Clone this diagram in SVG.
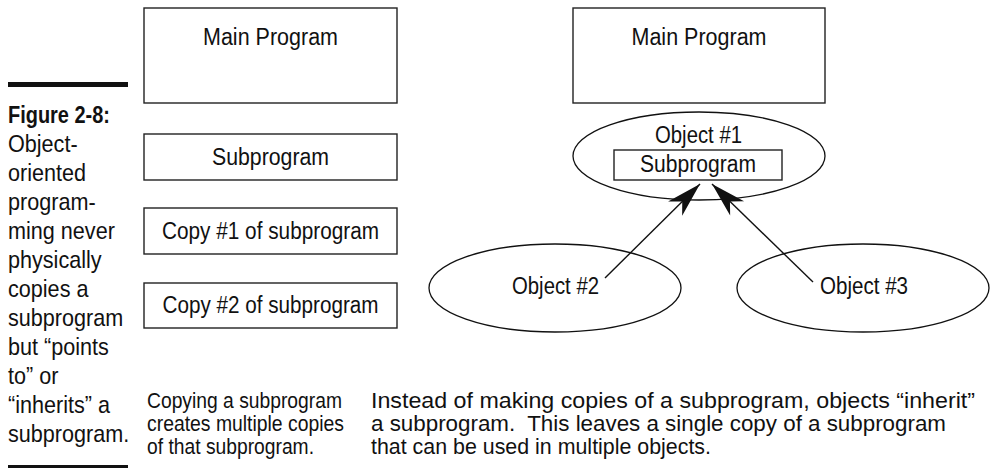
<svg xmlns="http://www.w3.org/2000/svg" width="998" height="468" viewBox="0 0 998 468">
<defs>
<style>
.box{fill:#fff;stroke:#222;stroke-width:1.4}
.ell{fill:#fff;stroke:#111;stroke-width:1.3}
.t{font-family:"Liberation Sans",Arial,sans-serif;font-size:23px;fill:#111;text-anchor:middle}
.cap{font-family:"Liberation Sans",Arial,sans-serif;font-size:24px;fill:#111}
.bcap{font-family:"Liberation Sans",Arial,sans-serif;font-size:22px;fill:#111}
.conn{stroke:#111;stroke-width:1.4;fill:none}
</style>
<marker id="ah" markerUnits="userSpaceOnUse" markerWidth="40" markerHeight="30" viewBox="-30 -10 32 20" refX="0" refY="0" orient="auto">
<path d="M0,0 L-28,-8 L-20,0 L-28,8 Z" fill="#111"/>
</marker>
</defs>
<rect width="998" height="468" fill="#fff"/>

<g id="caption">
<rect x="8" y="82" width="120" height="5" fill="#111"/>
<text class="cap" x="8" y="123" font-weight="bold" textLength="102" lengthAdjust="spacingAndGlyphs">Figure 2-8:</text>
<g transform="translate(8,0) scale(0.9,1)">
<text class="cap" x="0" y="152">Object-</text>
<text class="cap" x="0" y="181">oriented</text>
<text class="cap" x="0" y="210">program-</text>
<text class="cap" x="0" y="239">ming never</text>
<text class="cap" x="0" y="268">physically</text>
<text class="cap" x="0" y="297">copies a</text>
<text class="cap" x="0" y="326">subprogram</text>
<text class="cap" x="0" y="355">but “points</text>
<text class="cap" x="0" y="384">to” or</text>
<text class="cap" x="0" y="413">“inherits” a</text>
<text class="cap" x="0" y="442">subprogram.</text>
</g>
<rect x="8" y="465" width="120" height="4" fill="#111"/>
</g>

<g id="left-main">
<rect class="box" x="144" y="8" width="253" height="95"/>
<text class="t" x="270.5" y="45" textLength="135" lengthAdjust="spacingAndGlyphs">Main Program</text>
</g>
<g id="left-sub">
<rect class="box" x="144" y="134" width="253" height="46"/>
<text class="t" x="270.5" y="165" textLength="117" lengthAdjust="spacingAndGlyphs">Subprogram</text>
</g>
<g id="copy1">
<rect class="box" x="144" y="208" width="253" height="46"/>
<text class="t" x="270.5" y="239" textLength="217" lengthAdjust="spacingAndGlyphs">Copy #1 of subprogram</text>
</g>
<g id="copy2">
<rect class="box" x="144" y="283" width="253" height="45"/>
<text class="t" x="270.5" y="313" textLength="216" lengthAdjust="spacingAndGlyphs">Copy #2 of subprogram</text>
</g>

<g id="right-main">
<rect class="box" x="573" y="8" width="252" height="95"/>
<text class="t" x="699" y="45" textLength="135" lengthAdjust="spacingAndGlyphs">Main Program</text>
</g>
<g id="object1">
<ellipse class="ell" cx="699" cy="156" rx="126" ry="44"/>
<text class="t" x="698.5" y="143" textLength="87" lengthAdjust="spacingAndGlyphs">Object #1</text>
<rect class="box" x="614" y="150" width="168" height="30"/>
<text class="t" x="698" y="172" textLength="116" lengthAdjust="spacingAndGlyphs">Subprogram</text>
</g>
<g id="object2">
<ellipse class="ell" cx="555" cy="288" rx="126" ry="44"/>
<text class="t" x="555.5" y="294" textLength="87" lengthAdjust="spacingAndGlyphs">Object #2</text>
</g>
<g id="object3">
<ellipse class="ell" cx="863" cy="288" rx="126" ry="44"/>
<text class="t" x="864" y="294" textLength="88" lengthAdjust="spacingAndGlyphs">Object #3</text>
</g>

<g id="connectors">
<line class="conn" x1="605" y1="278" x2="700" y2="184" marker-end="url(#ah)"/>
<line class="conn" x1="813" y1="282" x2="712" y2="184" marker-end="url(#ah)"/>
</g>

<g id="notes">
<text class="bcap" x="147" y="408" textLength="195" lengthAdjust="spacingAndGlyphs">Copying a subprogram</text>
<text class="bcap" x="147" y="431" textLength="197" lengthAdjust="spacingAndGlyphs">creates multiple copies</text>
<text class="bcap" x="147" y="454" textLength="167" lengthAdjust="spacingAndGlyphs">of that subprogram.</text>
<text class="bcap" x="371" y="408" textLength="604" lengthAdjust="spacingAndGlyphs">Instead of making copies of a subprogram, objects “inherit”</text>
<text class="bcap" x="371" y="431" textLength="575" lengthAdjust="spacingAndGlyphs">a subprogram.&#160; This leaves a single copy of a subprogram</text>
<text class="bcap" x="371" y="454" textLength="340" lengthAdjust="spacingAndGlyphs">that can be used in multiple objects.</text>
</g>
</svg>
